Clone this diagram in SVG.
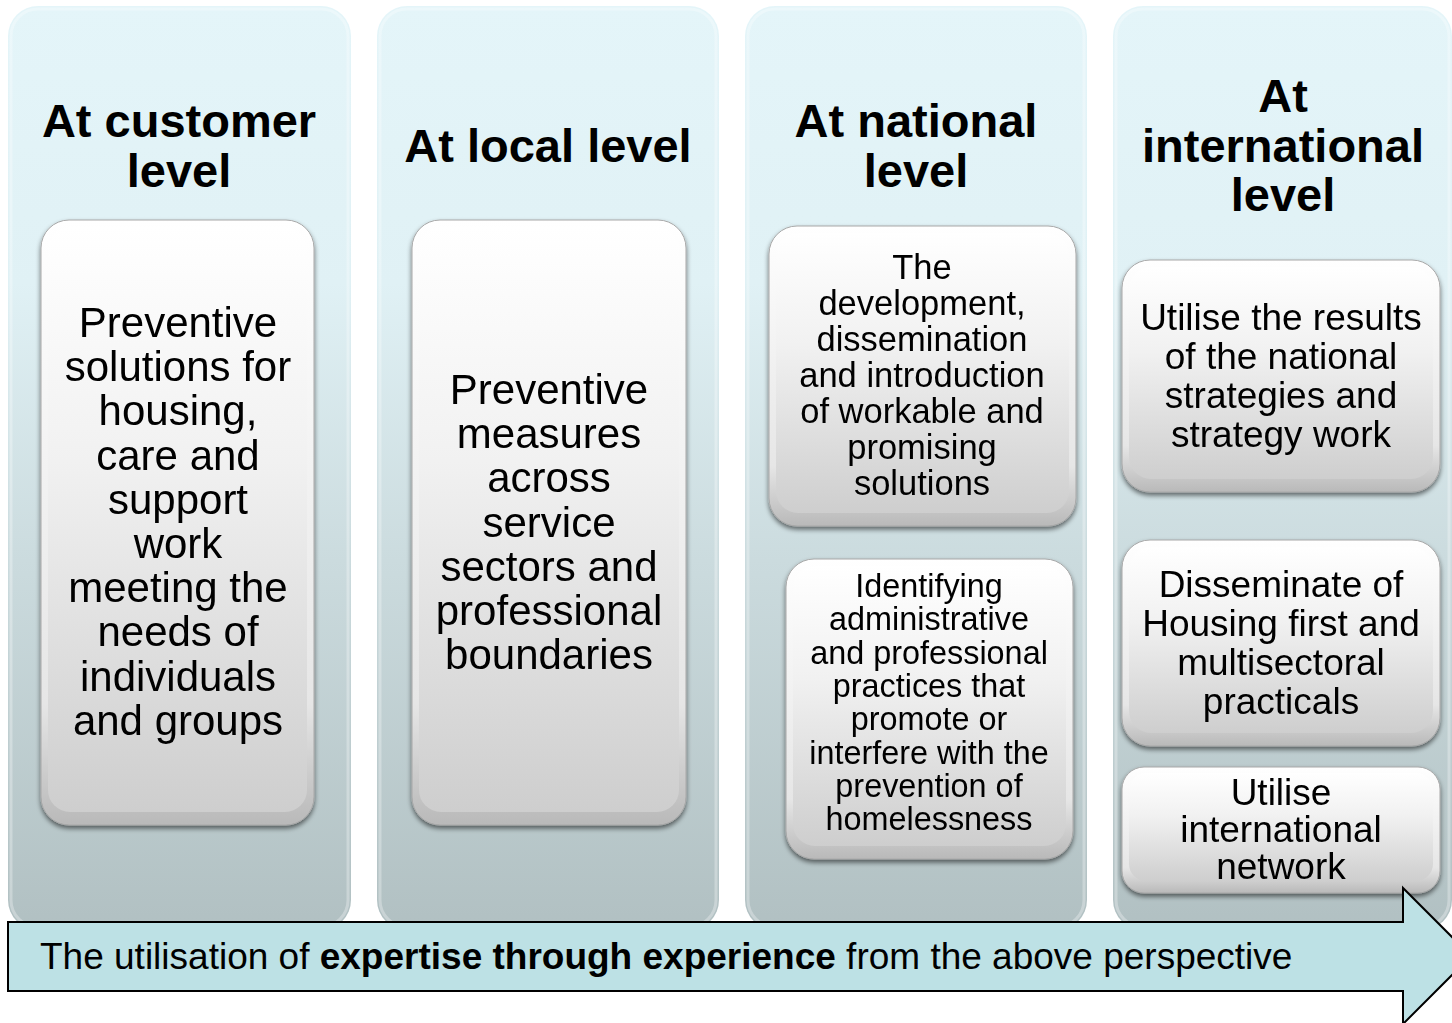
<svg xmlns="http://www.w3.org/2000/svg" width="1452" height="1023" viewBox="0 0 1452 1023">
  <defs>
    <linearGradient id="colGrad" x1="0" y1="0" x2="0" y2="1">
      <stop offset="0" stop-color="#e4f5f9"/>
      <stop offset="0.3" stop-color="#e0f1f5"/>
      <stop offset="0.6" stop-color="#cbdbde"/>
      <stop offset="1" stop-color="#b1c0c2"/>
    </linearGradient>
    <linearGradient id="bevelGrad" x1="0" y1="0" x2="0" y2="1">
      <stop offset="0" stop-color="#ffffff"/>
      <stop offset="0.8" stop-color="#e6e6e6"/>
      <stop offset="1" stop-color="#b9b9b9"/>
    </linearGradient>
    <linearGradient id="faceGrad" x1="0" y1="0" x2="0" y2="1">
      <stop offset="0" stop-color="#ffffff"/>
      <stop offset="0.4" stop-color="#f1f1f1"/>
      <stop offset="1" stop-color="#cecece"/>
    </linearGradient>
    <filter id="shadow" x="-10%" y="-10%" width="120%" height="120%">
      <feGaussianBlur in="SourceAlpha" stdDeviation="2.5"/>
      <feOffset dx="0" dy="3" result="b"/>
      <feComponentTransfer><feFuncA type="linear" slope="0.55"/></feComponentTransfer>
      <feMerge><feMergeNode/><feMergeNode in="SourceGraphic"/></feMerge>
    </filter>
    <style>
      .col { fill: url(#colGrad); }
      .colrim { fill: none; stroke: #ffffff; stroke-opacity: 0.3; stroke-width: 3; }
      .bevel { fill: url(#bevelGrad); stroke: #a8a8a8; stroke-width: 1; }
      .face { fill: url(#faceGrad); }
      .title { font-family: "Liberation Sans", Arial, sans-serif; font-weight: bold; font-size: 47px; fill: #000; text-anchor: middle; }
      .body { font-family: "Liberation Sans", Arial, sans-serif; fill: #000; text-anchor: middle; }
      .arrow { fill: #bde1e5; stroke: #000; stroke-width: 2; }
      .arrowtext { font-family: "Liberation Sans", Arial, sans-serif; font-size: 37px; fill: #000; }
    </style>
  </defs>

  <!-- Columns -->
  <g id="col-customer">
    <rect class="col" x="8" y="6" width="343" height="924" rx="30"/>
    <rect class="colrim" x="11" y="9" width="337" height="918" rx="27"/>
    <text class="title" x="179" y="137">At customer</text>
    <text class="title" x="179" y="187">level</text>
  </g>
  <g id="col-local">
    <rect class="col" x="377" y="6" width="342" height="924" rx="30"/>
    <rect class="colrim" x="380" y="9" width="336" height="918" rx="27"/>
    <text class="title" x="548" y="162">At local level</text>
  </g>
  <g id="col-national">
    <rect class="col" x="745" y="6" width="342" height="924" rx="30"/>
    <rect class="colrim" x="748" y="9" width="336" height="918" rx="27"/>
    <text class="title" x="916" y="137">At national</text>
    <text class="title" x="916" y="187">level</text>
  </g>
  <g id="col-international">
    <rect class="col" x="1113" y="6" width="339" height="924" rx="30"/>
    <rect class="colrim" x="1116" y="9" width="333" height="918" rx="27"/>
    <text class="title" x="1283" y="112">At</text>
    <text class="title" x="1283" y="162">international</text>
    <text class="title" x="1283" y="211">level</text>
  </g>

  <!-- Boxes -->
  <g id="box-customer" filter="url(#shadow)">
    <rect class="bevel" x="41" y="220" width="273" height="605" rx="28"/>
    <rect class="face" x="48" y="227" width="259" height="585" rx="22"/>
    <text class="body" font-size="42"><tspan x="178" y="337">Preventive</tspan><tspan x="178" y="381.2">solutions for</tspan><tspan x="178" y="425.4">housing,</tspan><tspan x="178" y="469.6">care and</tspan><tspan x="178" y="513.8">support</tspan><tspan x="178" y="558">work</tspan><tspan x="178" y="602.2">meeting the</tspan><tspan x="178" y="646.4">needs of</tspan><tspan x="178" y="690.6">individuals</tspan><tspan x="178" y="734.8">and groups</tspan></text>
  </g>
  <g id="box-local" filter="url(#shadow)">
    <rect class="bevel" x="412" y="220" width="274" height="605" rx="28"/>
    <rect class="face" x="419" y="227" width="260" height="585" rx="22"/>
    <text class="body" font-size="42"><tspan x="549" y="404">Preventive</tspan><tspan x="549" y="448.2">measures</tspan><tspan x="549" y="492.4">across</tspan><tspan x="549" y="536.6">service</tspan><tspan x="549" y="580.8">sectors and</tspan><tspan x="549" y="625">professional</tspan><tspan x="549" y="669.2">boundaries</tspan></text>
  </g>
  <g id="box-national-1" filter="url(#shadow)">
    <rect class="bevel" x="769" y="226" width="307" height="300" rx="28"/>
    <rect class="face" x="776" y="233" width="293" height="280" rx="22"/>
    <text class="body" font-size="34.5"><tspan x="922" y="279">The</tspan><tspan x="922" y="315">development,</tspan><tspan x="922" y="351">dissemination</tspan><tspan x="922" y="387">and introduction</tspan><tspan x="922" y="423">of workable and</tspan><tspan x="922" y="459">promising</tspan><tspan x="922" y="495">solutions</tspan></text>
  </g>
  <g id="box-national-2" filter="url(#shadow)">
    <rect class="bevel" x="786" y="559" width="287" height="300" rx="28"/>
    <rect class="face" x="793" y="566" width="273" height="280" rx="22"/>
    <text class="body" font-size="32.4"><tspan x="929" y="597">Identifying</tspan><tspan x="929" y="630.3">administrative</tspan><tspan x="929" y="663.6">and professional</tspan><tspan x="929" y="696.9">practices that</tspan><tspan x="929" y="730.2">promote or</tspan><tspan x="929" y="763.5">interfere with the</tspan><tspan x="929" y="796.8">prevention of</tspan><tspan x="929" y="830">homelessness</tspan></text>
  </g>
  <g id="box-international-1" filter="url(#shadow)">
    <rect class="bevel" x="1122" y="260" width="318" height="232" rx="28"/>
    <rect class="face" x="1129" y="267" width="304" height="212" rx="22"/>
    <text class="body" font-size="37"><tspan x="1281" y="330">Utilise the results</tspan><tspan x="1281" y="369">of the national</tspan><tspan x="1281" y="408">strategies and</tspan><tspan x="1281" y="447">strategy work</tspan></text>
  </g>
  <g id="box-international-2" filter="url(#shadow)">
    <rect class="bevel" x="1122" y="540" width="318" height="206" rx="28"/>
    <rect class="face" x="1129" y="547" width="304" height="186" rx="22"/>
    <text class="body" font-size="37"><tspan x="1281" y="597">Disseminate of</tspan><tspan x="1281" y="636">Housing first and</tspan><tspan x="1281" y="675">multisectoral</tspan><tspan x="1281" y="714">practicals</tspan></text>
  </g>
  <g id="box-international-3" filter="url(#shadow)">
    <rect class="bevel" x="1122" y="767" width="318" height="126" rx="22"/>
    <rect class="face" x="1129" y="773" width="304" height="108" rx="17"/>
    <text class="body" font-size="37"><tspan x="1281" y="805">Utilise</tspan><tspan x="1281" y="842">international</tspan><tspan x="1281" y="879">network</tspan></text>
  </g>

  <!-- Connectors: bottom arrow -->
  <g id="connectors">
    <g id="arrow-perspective">
      <polygon class="arrow" points="8,922 1403,922 1403,888 1471,956 1403,1024 1403,991 8,991"/>
      <text class="arrowtext" x="40" y="969">The utilisation of <tspan font-weight="bold">expertise through experience</tspan> from the above perspective</text>
    </g>
  </g>
</svg>
